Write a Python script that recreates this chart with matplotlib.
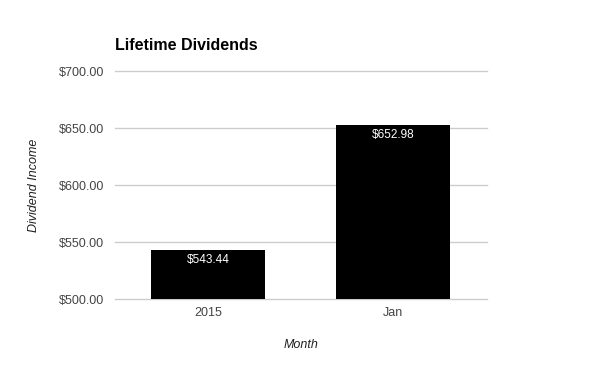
import matplotlib.pyplot as plt

# data
months = ['2015', 'Jan']
dividends = [543.44, 652.98]
y_ticks = [500, 550, 600, 650, 700]

plt.rcParams['font.family'] = ['Liberation Sans', 'DejaVu Sans']

fig = plt.figure(figsize=(6, 3.71), dpi=100)
ax = fig.add_axes([0.1917, 0.194, 0.62, 0.6146])

x = range(len(months))
bars = ax.bar(x, dividends, width=0.616, color='black', zorder=3)
for b, v in zip(bars, dividends):
    ax.annotate('$%.2f' % v, (b.get_x() + b.get_width() / 2, v),
                xytext=(0, -3), textcoords='offset points',
                ha='center', va='top', color='white', fontsize=8.5, zorder=4)

ax.set_xlim(-0.503, 1.508)
ax.set_ylim(500, 700)
ax.set_yticks(y_ticks)
ax.set_yticklabels(['$%.2f' % t for t in y_ticks])
ax.set_xticks(list(x))
ax.set_xticklabels(months)
# gridlines drawn by hand so the bottom one is not clipped
for t in y_ticks:
    ax.axhline(t, color='#cccccc', linewidth=1, zorder=1, clip_on=False)
for s in ax.spines.values():
    s.set_visible(False)
ax.tick_params(length=0, labelsize=9, labelcolor='#444444')
ax.tick_params(axis='y', pad=8)
ax.tick_params(axis='x', pad=6)

ax.set_xlabel('Month', fontstyle='italic', fontsize=9, color='#222222', labelpad=14)
ax.set_ylabel('Dividend Income', fontstyle='italic', fontsize=9, color='#222222', labelpad=13)
fig.text(0.1917, 0.878, 'Lifetime Dividends', fontsize=11.5, fontweight='bold', va='center')

fig.savefig('out.png', dpi=100)
